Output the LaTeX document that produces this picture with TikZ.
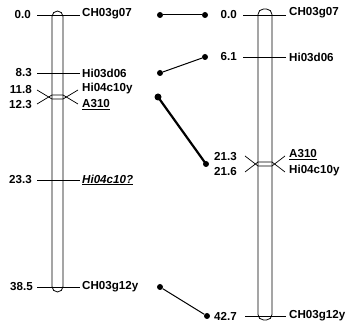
\documentclass[tikz,border=0pt]{standalone}
\usepackage{fontspec}
\setmainfont{Liberation Sans}
\begin{document}
\begin{tikzpicture}[x=1pt,y=-1pt,
  font=\fontsize{11.6}{13}\selectfont\bfseries,
  num/.style={anchor=east,inner sep=0pt},
  lab/.style={anchor=west,inner sep=0pt},
  chrom/.style={draw,line width=0.8pt,rounded corners=5.5pt},
  tick/.style={line width=0.7pt},
  dotnode/.style={circle,fill,inner sep=0pt,minimum size=6pt},
  conn/.style={line width=1pt},
  thickconn/.style={line width=2.2pt}]
\useasboundingbox (0,0) rectangle (349,326);
% left chromosome
\draw[chrom] (52,11) rectangle (63,292);
\node[num] (ln0) at (31,15) {0.0};
\node[lab] (lm0) at (82,14) {CH03g07};
\draw[tick] (37,15) -- (80,15);
\node[num] (ln1) at (32,73) {8.3};
\node[lab] (lm1) at (82,73) {Hi03d06};
\draw[tick] (37,73) -- (80,73);
\node[num] (ln2) at (32,90) {11.8};
\node[lab] (lm2) at (82,89) {Hi04c10y};
\draw[tick] (37,90) -- (52,99) -- (63,99) -- (78,90);
\node[num] (ln3) at (32,105) {12.3};
\node[lab] (lm3) at (82,105) {\underline{A310}};
\draw[tick] (37,104) -- (52,95) -- (63,95) -- (78,104);
\node[num] (ln4) at (32,180) {23.3};
\node[lab] (lm4) at (82,180) {\underline{\itshape Hi04c10?}};
\draw[tick] (37,180) -- (80,180);
\node[num] (ln5) at (33,287) {38.5};
\node[lab] (lm5) at (82,287) {CH03g12y};
\draw[tick] (37,287) -- (80,287);
% right chromosome
\draw[chrom] (258,9) rectangle (272,320);
\node[num] (rn0) at (237,15) {0.0};
\node[lab] (rm0) at (289,13) {CH03g07};
\draw[tick] (243,15) -- (286,15);
\node[num] (rn1) at (237,57) {6.1};
\node[lab] (rm1) at (289,57) {Hi03d06};
\draw[tick] (243,57) -- (286,57);
\node[num] (rn2) at (237,157) {21.3};
\node[lab] (rm2) at (289,155) {\underline{A310}};
\draw[tick] (245,156) -- (258,166) -- (272,166) -- (285,156);
\node[num] (rn3) at (237,172) {21.6};
\node[lab] (rm3) at (289,171) {Hi04c10y};
\draw[tick] (245,172) -- (258,162) -- (272,162) -- (285,172);
\node[num] (rn4) at (237,316) {42.7};
\node[lab] (rm4) at (289,316) {CH03g12y};
\draw[tick] (245,316) -- (286,316);
% connectors
\node[dotnode] (a1) at (160,15) {};
\node[dotnode] (b1) at (205,15) {};
\draw[conn] (a1) -- (b1);
\node[dotnode] (a2) at (160,73) {};
\node[dotnode] (b2) at (205,57) {};
\draw[conn] (a2) -- (b2);
\node[dotnode,minimum size=7pt] (a3) at (158,97) {};
\node[dotnode] (b3) at (206,164) {};
\draw[thickconn] (a3.center) -- (b3.center);
\node[dotnode] (a4) at (160,287) {};
\node[dotnode] (b4) at (207,316) {};
\draw[conn] (a4) -- (b4);
\end{tikzpicture}
\end{document}
